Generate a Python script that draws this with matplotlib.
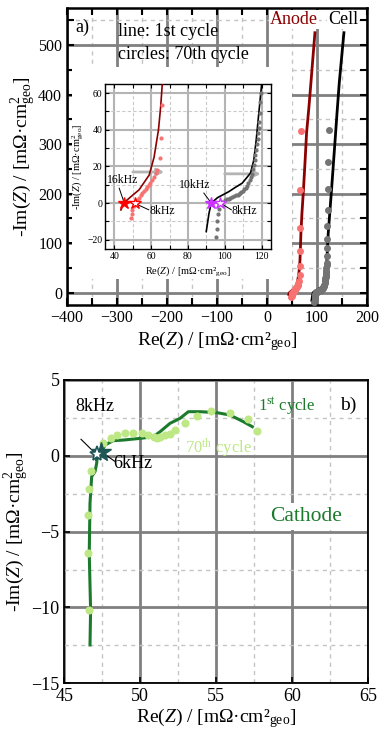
import matplotlib
matplotlib.use("Agg")
import matplotlib.pyplot as plt
from matplotlib.patches import Rectangle
from matplotlib.ticker import MultipleLocator

plt.rcParams['font.family'] = ['Liberation Serif', 'DejaVu Serif']
plt.rcParams['mathtext.fontset'] = 'custom'
plt.rcParams['mathtext.rm'] = 'Liberation Serif'
plt.rcParams['mathtext.it'] = 'Liberation Serif:italic'
plt.rcParams['mathtext.bf'] = 'Liberation Serif:bold'

# ---------------- data (panel a) ----------------
anode_1st_re = [43.6, 45.4, 49, 53.5, 59, 61.6, 64, 65.2, 66.1, 67, 68, 70, 72.7, 76, 79.3, 84, 88, 92, 96]
anode_1st_im = [-3.7, 0.3, 3.5, 7.3, 15.4, 25, 40, 52.7, 65.5, 90, 121, 160, 202, 260, 323, 375, 424, 475, 525]

anode_70_re = [49, 49.5, 49.9, 50.5, 51.2, 52.6, 53.5, 54.4, 55.3, 56.2, 57.1, 58, 58.7, 59.3, 60.5, 61.6, 62.4, 63.1,
               64.9, 65.6, 66.1, 66, 66, 66, 67.3]
anode_70_im = [-8.2, -6, -3.7, -1.5, 0, 1.8, 3, 4.2, 5.3, 6.4, 7.5, 8.7, 9.8, 10.9, 12.7, 14.5, 16.3, 18.2,
               24.5, 35.5, 53.6, 84, 131, 207, 326]

cell_1st_re = [89.9, 91.4, 92.6, 96, 102.2, 105.5, 109.4, 113.9, 115.7, 117, 118.4, 119.9, 122.7, 126, 129.3, 136, 140, 144.7, 154]
cell_1st_im = [-15.5, -5.5, 0, 3, 6.3, 8.5, 10.9, 16.4, 23.6, 34.5, 49, 64.5, 121, 165, 209, 303, 360, 424, 525]

cell_70_re = [95, 95.5, 96, 96.5, 97, 97.6, 98.6, 100, 101, 102, 103, 104, 105, 106, 107, 107.6, 108.3, 109, 109.8,
              110.5, 111.3, 112.1, 112.8, 113.5, 114.2, 114.8, 115.3, 115.8, 116.2, 116.6, 117, 117.3, 117.7, 118,
              118.3, 118.5, 118.8, 119.3, 119.7, 119.5, 119.3, 119.8, 120.7, 121.3, 122.7, 122.7, 124.7]
cell_70_im = [-18.2, -14, -10, -6, -3, 0, 0.5, 1.5, 2, 2.5, 3, 3.5, 3.9, 4.3, 4.7, 5, 5.5, 6, 6.7,
              7.5, 8.5, 9.5, 11, 12.5, 14.2, 16, 18.5, 21, 23.6, 26.3, 29, 32, 35, 38,
              41, 44, 49, 55, 60, 74, 91, 108, 135, 167, 210, 263, 328]

# frequency markers (panel a inset)
anode_star_1st = (45.4, 0.3)
anode_star_70 = (51.2, 0.0)
cell_star_1st = (92.6, 0.0)
cell_star_70 = (97.6, 0.0)

# ---------------- data (panel b, cathode) ----------------
cath_1st_re = [46.69, 46.73, 46.64, 46.69, 46.8, 47.02, 47.13, 47.17, 47.46, 47.68, 48.22, 48.88, 49.98, 50.86,
               51.3, 51.95, 52.61, 53.16, 53.93, 55.02, 55.9, 56.78, 57.37]
cath_1st_im = [-12.47, -10.16, -6.43, -3.13, -1.37, -1.04, -0.49, 0.0, 0.27, 0.71, 1.0, 1.04, 1.15, 1.26,
               1.59, 2.14, 2.47, 2.91, 2.91, 2.85, 2.69, 2.25, 1.92]

cath_70_re = [46.64, 46.58, 46.58, 46.64, 46.73, 47.57, 48.05, 48.49, 48.99, 49.54, 50.09, 50.53, 50.9, 51.07,
              51.3, 51.6, 51.95, 52.28, 52.94, 53.71, 54.63, 55.9, 57.11, 57.7]
cath_70_im = [-10.16, -6.43, -3.9, -2.2, -1.0, 0.82, 1.15, 1.37, 1.53, 1.53, 1.48, 1.37, 1.26, 1.2,
              1.25, 1.35, 1.45, 1.7, 2.14, 2.65, 2.98, 2.85, 2.41, 1.64]

cath_star_1st = (47.42, 0.25)
cath_star_70 = (47.12, 0.1)

# ---------------- colors ----------------
c_anode = '#8b0000'
c_anode70 = '#f87272'
c_cell = '#000000'
c_cell70 = '#747474'
c_cath = '#1c7a2c'
c_cath70 = '#bde885'
c_star_b = '#1e5656'

fig = plt.figure(figsize=(3.9, 7.38), dpi=100)

# ================= panel a =================
ax = fig.add_axes([0.1718, 0.5867, 0.769, 0.4025])
ax.set_xlim(-400, 200)
ax.set_ylim(-25, 575)
ax.xaxis.set_major_locator(MultipleLocator(100))
ax.xaxis.set_minor_locator(MultipleLocator(50))
ax.yaxis.set_major_locator(MultipleLocator(100))
ax.yaxis.set_minor_locator(MultipleLocator(50))
ax.set_axisbelow(True)
ax.grid(which='major', color='#808080', lw=2, ls='-')
ax.grid(which='minor', color='#c4c4c4', lw=1, ls=(0, (3, 3)))
ax.tick_params(which='both', direction='in', top=True, right=True, length=5, width=1.5, labelsize=11.5)
for s in ax.spines.values():
    s.set_linewidth(1.8)
ax.add_patch(Rectangle((-390, 27), 440, 428, facecolor='white', edgecolor='none', zorder=1))

ax.plot(anode_1st_re, anode_1st_im, color=c_anode, lw=2, zorder=3)
ax.plot(cell_1st_re, cell_1st_im, color=c_cell, lw=2, zorder=3)
ax.plot(anode_70_re, anode_70_im, 'o', color=c_anode70, ms=4, zorder=4)
ax.plot(cell_70_re, cell_70_im, 'o', color=c_cell70, ms=4, zorder=4)

ax.set_xlabel(r'Re($Z$) / [mΩ·cm²$_{\rm geo}$]', fontsize=14, labelpad=2)
ax.set_ylabel(r'-Im($Z$) / [mΩ·cm$^2_{\rm geo}$]', fontsize=14, labelpad=0)

ax.text(-384, 536, 'a)', fontsize=13, va='center', ha='left', zorder=5)
ax.text(-298, 528, 'line: 1st cycle', fontsize=13, va='center', ha='left', zorder=5)
ax.text(-298, 481, 'circles: 70th cycle', fontsize=13, va='center', ha='left', zorder=5)
ax.text(6, 552, 'Anode', fontsize=13, color=c_anode, va='center', ha='left', zorder=5,
        bbox=dict(facecolor='white', edgecolor='none', pad=0.5))
ax.text(122, 552, 'Cell', fontsize=13, color=c_cell, va='center', ha='left', zorder=5,
        bbox=dict(facecolor='white', edgecolor='none', pad=0.5))

# ---------------- inset ----------------
ins = fig.add_axes([0.2692, 0.6626, 0.4256, 0.2236])
ins.set_zorder(ax.get_zorder() + 1)
ins.set_xlim(35, 125)
ins.set_ylim(-25, 65)
ins.xaxis.set_major_locator(MultipleLocator(20))
ins.xaxis.set_minor_locator(MultipleLocator(10))
ins.yaxis.set_major_locator(MultipleLocator(20))
ins.yaxis.set_minor_locator(MultipleLocator(10))
ins.set_axisbelow(True)
ins.grid(which='major', color='#b4b4b4', lw=1.5, ls='-')
ins.grid(which='minor', color='#cacaca', lw=0.8, ls=(0, (3, 2)))
ins.tick_params(which='both', direction='in', top=True, right=True, length=3, width=0.8, labelsize=7, pad=2)
for s in ins.spines.values():
    s.set_linewidth(1)
ins.plot(anode_1st_re, anode_1st_im, color=c_anode, lw=1.2, zorder=3)
ins.plot(cell_1st_re, cell_1st_im, color=c_cell, lw=1.2, zorder=3)
ins.plot(anode_70_re, anode_70_im, 'o', color=c_anode70, ms=2, zorder=4)
ins.plot(cell_70_re, cell_70_im, 'o', color=c_cell70, ms=2, zorder=4)

ins.plot(*anode_star_1st, '*', color='#ff0000', ms=9, zorder=6)
ins.plot(*anode_star_70, '*', mfc='white', mec='#ff0000', mew=1, ms=9, zorder=6)
ins.plot(*cell_star_1st, '*', color='#cc33ff', ms=9, zorder=6)
ins.plot(*cell_star_70, '*', mfc='white', mec='#cc33ff', mew=1, ms=9, zorder=6)

ins.annotate('', xy=(68.6, 17), xytext=(48.6, 17),
             arrowprops=dict(arrowstyle='-|>', color='#b4b4b4', lw=2, mutation_scale=10), zorder=2)
ins.annotate('', xy=(121, 16), xytext=(98.4, 16),
             arrowprops=dict(arrowstyle='-|>', color='#b4b4b4', lw=2, mutation_scale=10), zorder=2)

kw = dict(fontsize=8.5, va='center', ha='left', zorder=7)
ins.text(36.2, 12.7, '16kHz', **kw)
ins.plot([42.7, 45.2], [8.2, 0.8], color='black', lw=0.7, zorder=5)
ins.text(58.9, -4.2, '8kHz', **kw)
ins.plot([51.6, 58.7], [-0.3, -3.6], color='black', lw=0.7, zorder=5)
ins.text(75.1, 10, '10kHz', **kw)
ins.plot([88.6, 92.3], [5.5, 0.5], color='black', lw=0.7, zorder=5)
ins.text(103.8, -4.2, '8kHz', **kw)
ins.plot([98.1, 103.5], [-0.3, -3.6], color='black', lw=0.7, zorder=5)

ins.set_xlabel(r'Re($Z$) / [mΩ·cm²$_{\rm geo}$]', fontsize=7.5, labelpad=2)
ins.set_ylabel(r'-Im($Z$) / [mΩ·cm$^2_{\rm geo}$]', fontsize=7.5, labelpad=1)

# ================= panel b =================
bx = fig.add_axes([0.1649, 0.0741, 0.7795, 0.411])
bx.set_xlim(45, 65)
bx.set_ylim(-15, 5)
bx.xaxis.set_major_locator(MultipleLocator(5))
bx.xaxis.set_minor_locator(MultipleLocator(2.5))
bx.yaxis.set_major_locator(MultipleLocator(5))
bx.yaxis.set_minor_locator(MultipleLocator(2.5))
bx.set_axisbelow(True)
bx.grid(which='major', color='#808080', lw=2, ls='-')
bx.grid(which='minor', color='#c4c4c4', lw=1, ls=(0, (3, 3)))
bx.tick_params(which='major', direction='in', length=4, width=1.2, labelsize=13)
bx.tick_params(which='minor', length=0)
for s in bx.spines.values():
    s.set_linewidth(1.3)

bx.plot(cath_1st_re, cath_1st_im, color=c_cath, lw=2.2, zorder=3)
bx.plot(cath_70_re, cath_70_im, 'o', color=c_cath70, ms=4.8, zorder=4)
bx.plot(*cath_star_1st, '*', color=c_star_b, ms=15, zorder=6)
bx.plot(*cath_star_70, '*', mfc='white', mec=c_star_b, mew=1.2, ms=11, zorder=7)

bx.text(45.70, 3.24, '8kHz', fontsize=13, va='center', ha='left', zorder=8)
bx.plot([46.1, 47.05], [1.09, 0.15], color='black', lw=0.8, zorder=5)
bx.text(48.22, -0.49, '6kHz', fontsize=13, va='center', ha='left', zorder=8)
bx.plot([47.6, 48.3], [0.15, -0.35], color='black', lw=0.8, zorder=5)

bx.text(57.76, 3.3, r'1$^{\rm st}$ cycle', fontsize=12, color=c_cath, va='center', ha='left', zorder=8)
bx.text(52.94, 0.49, r'70$^{\rm th}$ cycle', fontsize=12, color=c_cath70, va='center', ha='left', zorder=8)
bx.text(63.14, 3.35, 'b)', fontsize=14, va='center', ha='left', zorder=8)
bx.text(58.53, -4.01, 'Cathode', fontsize=15.5, color=c_cath, va='center', ha='left', zorder=8,
        bbox=dict(facecolor='white', edgecolor='none', pad=3))

bx.set_xlabel(r'Re($Z$) / [mΩ·cm²$_{\rm geo}$]', fontsize=14, labelpad=1)
bx.set_ylabel(r'-Im($Z$) / [mΩ·cm$^2_{\rm geo}$]', fontsize=14, labelpad=0)

fig.savefig('out.png', dpi=100)
